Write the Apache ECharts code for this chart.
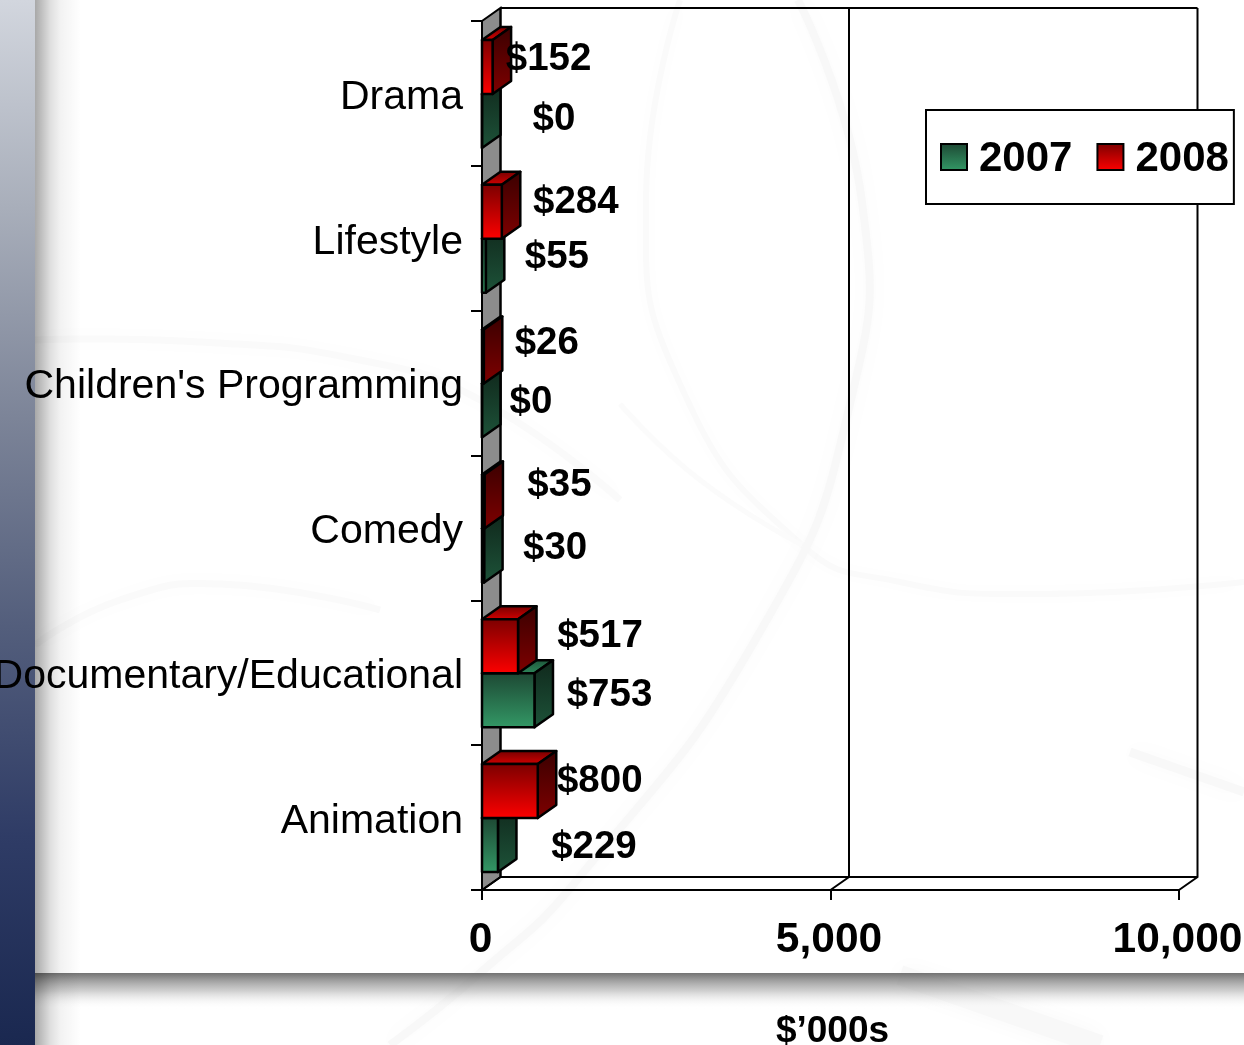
<!DOCTYPE html>
<html>
<head>
<meta charset="utf-8">
<title>Chart</title>
<script src="https://cdn.jsdelivr.net/npm/echarts@6/dist/echarts.min.js"></script>
<style>
html, body { margin: 0; padding: 0; background: #fff; }
#chart { width: 1244px; height: 1045px; }
</style>
</head>
<body>
<div id="chart"></div>
<script>
// chart data
var categories = ["Drama", "Lifestyle", "Children's Programming", "Comedy", "Documentary/Educational", "Animation"];
var values2007 = [0, 55, 0, 30, 753, 229];
var values2008 = [152, 284, 26, 35, 517, 800];
var xTicks = [0, 5000, 10000];

// hand placed data labels, offset from the end of each bar
var labelOffset2007 = [[72, -2], [71, -8], [49, -8], [71, -7], [75, -5], [96, 2]];
var labelOffset2008 = [[56, -8], [74, -9], [63, -13], [75, -16], [82, -10], [62, -10]];

var FONT = '"Liberation Sans", Arial, sans-serif';
var DEPTH_X = 18.5, DEPTH_Y = -13;
var BAR_H = 54;

function vgrad(top, bottom) {
    return new echarts.graphic.LinearGradient(0, 0, 0, 1, [
        { offset: 0, color: top },
        { offset: 1, color: bottom }
    ]);
}

var skin2007 = {
    front: ['#1d4733', '#339966'],
    side: ['#10281c', '#1d5339'],
    top: ['#1d5339', '#2f8a5c']
};
var skin2008 = {
    front: ['#7a0000', '#ff0000'],
    side: ['#3a0000', '#7f0000'],
    top: ['#700000', '#d80000']
};

// one box of the 3d bar, lower = true puts it under the band centre
function barRenderer(values, offsets, skin, lower) {
    return function (params, api) {
        var i = params.dataIndex;
        var base = api.coord([0, i]);
        var end = api.coord([api.value(0), i]);
        var y0 = (lower ? base[1] : base[1] - BAR_H) + 0.5;
        var y1 = y0 + BAR_H;
        var x0 = base[0], x1 = end[0];
        var line = { stroke: '#000', lineWidth: 2.5, lineJoin: 'round' };
        return {
            type: 'group',
            children: [{
                type: 'polygon',
                shape: { points: [[x0, y0], [x1, y0], [x1 + DEPTH_X, y0 + DEPTH_Y], [x0 + DEPTH_X, y0 + DEPTH_Y]] },
                style: Object.assign({ fill: vgrad(skin.top[0], skin.top[1]) }, line)
            }, {
                type: 'polygon',
                shape: { points: [[x1, y0], [x1 + DEPTH_X, y0 + DEPTH_Y], [x1 + DEPTH_X, y1 + DEPTH_Y], [x1, y1]] },
                style: Object.assign({ fill: vgrad(skin.side[0], skin.side[1]) }, line)
            }, {
                type: 'rect',
                shape: { x: x0, y: y0, width: x1 - x0, height: BAR_H },
                style: Object.assign({ fill: vgrad(skin.front[0], skin.front[1]) }, line)
            }, {
                type: 'text',
                z2: 50,
                style: {
                    text: '$' + api.value(0),
                    x: x1 + offsets[i][0],
                    y: (y0 + y1) / 2 + offsets[i][1],
                    align: 'center',
                    verticalAlign: 'middle',
                    font: 'bold 38.5px ' + FONT,
                    fill: '#000'
                }
            }]
        };
    };
}

// side wall, floor and back grid lines
function frameRenderer(params, api) {
    var box = params.coordSys;
    var top = box.y, bottom = box.y + box.height, left = box.x;
    var line = { stroke: '#000', lineWidth: 2, fill: null };
    var kids = [{
        type: 'polygon',
        shape: { points: [[left, top], [left + DEPTH_X, top + DEPTH_Y], [left + DEPTH_X, bottom + DEPTH_Y], [left, bottom]] },
        style: { fill: '#8c8c8c', stroke: '#000', lineWidth: 2 }
    }, {
        type: 'polyline',
        shape: { points: [[left + DEPTH_X, top + DEPTH_Y], [left + box.width + DEPTH_X, top + DEPTH_Y]] },
        style: line
    }, {
        type: 'polyline',
        shape: { points: [[left + DEPTH_X, bottom + DEPTH_Y], [left + box.width + DEPTH_X, bottom + DEPTH_Y]] },
        style: line
    }];
    xTicks.forEach(function (t) {
        var x = api.coord([t, 0])[0];
        kids.push({
            type: 'polyline',
            shape: { points: [[x, bottom], [x + DEPTH_X, bottom + DEPTH_Y], [x + DEPTH_X, top + DEPTH_Y]] },
            style: line
        });
    });
    return { type: 'group', children: kids };
}

function swirl(points, width, color) {
    return {
        type: 'polyline',
        z: -8,
        silent: true,
        shape: { points: points, smooth: 0.5 },
        style: { stroke: color, lineWidth: width, fill: null, shadowBlur: 22, shadowColor: color }
    };
}

var backdrop = [
    swirl([[680, 0], [646, 202], [680, 384], [802, 545], [900, 582], [1030, 594], [1244, 582]], 6, '#fafafa'),
    swirl([[798, 0], [862, 202], [850, 404], [761, 630], [577, 880], [480, 973], [390, 1045]], 8, '#f8f8f8'),
    swirl([[620, 404], [700, 480], [802, 545]], 5, '#fbfbfb'),
    swirl([[35, 340], [200, 342], [360, 360], [480, 400], [620, 500]], 7, '#fafafa'),
    swirl([[35, 645], [120, 600], [220, 584], [380, 610]], 7, '#fafafa'),
    swirl([[1130, 752], [1244, 792]], 9, '#f8f8f8'),
    swirl([[900, 975], [1000, 1010], [1100, 1045]], 20, '#f8f8f8'),
    {
        type: 'rect', z: -6, silent: true,
        shape: { x: 35, y: 973, width: 1209, height: 36 },
        style: {
            fill: new echarts.graphic.LinearGradient(0, 0, 0, 1, [
                { offset: 0, color: 'rgba(90,90,90,0.85)' },
                { offset: 0.5, color: 'rgba(150,150,150,0.45)' },
                { offset: 1, color: 'rgba(255,255,255,0)' }
            ])
        }
    },
    {
        type: 'rect', z: -5, silent: true,
        shape: { x: 35, y: 0, width: 46, height: 1045 },
        style: {
            fill: new echarts.graphic.LinearGradient(0, 0, 1, 0, [
                { offset: 0, color: 'rgba(0,0,0,0.34)' },
                { offset: 0.33, color: 'rgba(0,0,0,0.13)' },
                { offset: 0.55, color: 'rgba(0,0,0,0.05)' },
                { offset: 1, color: 'rgba(0,0,0,0)' }
            ])
        }
    },
    {
        type: 'rect', z: -4, silent: true,
        shape: { x: 0, y: 0, width: 35, height: 1045 },
        style: {
            fill: new echarts.graphic.LinearGradient(0, 0, 0, 1, [
                { offset: 0, color: '#d2d6de' },
                { offset: 0.2, color: '#a8aeba' },
                { offset: 0.4, color: '#7c8498' },
                { offset: 0.6, color: '#535e7c' },
                { offset: 0.8, color: '#2f3c66' },
                { offset: 1, color: '#1a2850' }
            ])
        }
    }
];

function barSeries(name, values, offsets, skin, lower) {
    return {
        name: name,
        type: 'custom',
        coordinateSystem: 'cartesian2d',
        clip: false,
        silent: true,
        z: 5,
        encode: { x: 0, y: 1 },
        itemStyle: { color: vgrad(skin.front[0], skin.front[1]) },
        renderItem: barRenderer(values, offsets, skin, lower),
        data: values.map(function (v, i) { return [v, i]; })
    };
}

var chart = echarts.init(document.getElementById('chart'), null, { renderer: 'canvas' });
chart.setOption({
    animation: false,
    backgroundColor: '#fff',
    textStyle: { fontFamily: FONT },
    graphic: { elements: backdrop },
    grid: { left: 482, top: 21, width: 697, height: 869, containLabel: false, outerBoundsMode: 'none' },
    legend: {
        left: 926,
        top: 110,
        padding: [28, 5, 24, 14],
        backgroundColor: '#fff',
        borderColor: '#000',
        borderWidth: 2,
        borderRadius: 0,
        itemWidth: 26,
        itemHeight: 26,
        itemGap: 24,
        selectedMode: false,
        formatter: '{a|{name}}',
        textStyle: {
            fontFamily: FONT, fontWeight: 'bold', fontSize: 42, color: '#000',
            rich: { a: { fontFamily: FONT, fontWeight: 'bold', fontSize: 42, color: '#000', padding: [4, 0, 0, 7] } }
        },
        data: [
            { name: '2007', icon: 'rect', itemStyle: { color: vgrad(skin2007.front[0], skin2007.front[1]), borderColor: '#000', borderWidth: 2 } },
            { name: '2008', icon: 'rect', itemStyle: { color: vgrad(skin2008.front[0], skin2008.front[1]), borderColor: '#000', borderWidth: 2 } }
        ],
        z: 20
    },
    xAxis: {
        type: 'value',
        min: 0,
        max: 10000,
        interval: 5000,
        name: '$\u2019000s',
        nameLocation: 'middle',
        nameGap: 123,
        nameTextStyle: { fontFamily: FONT, fontWeight: 'bold', fontSize: 37, color: '#000', padding: [0, 0, 0, 4] },
        axisLine: { show: true, lineStyle: { color: '#000', width: 2 } },
        axisTick: { show: true, length: 10, lineStyle: { color: '#000', width: 2 } },
        axisLabel: { margin: 29, padding: [0, 3, 0, 0], fontFamily: FONT, fontWeight: 'bold', fontSize: 42.5, color: '#000', hideOverlap: false, showMinLabel: true, showMaxLabel: true },
        splitLine: { show: false }
    },
    yAxis: {
        type: 'category',
        inverse: true,
        data: categories,
        axisLine: { show: true, lineStyle: { color: '#000', width: 2 } },
        axisTick: { show: true, length: 11, lineStyle: { color: '#000', width: 2 } },
        axisLabel: {
            margin: 19, fontFamily: FONT, fontSize: 41, color: '#000', interval: 0,
            formatter: '{a|{value}}',
            rich: { a: { fontFamily: FONT, fontSize: 41, color: '#000', padding: [8, 0, 0, 0] } }
        },
        splitLine: { show: false }
    },
    series: [{
        type: 'custom',
        coordinateSystem: 'cartesian2d',
        clip: false,
        silent: true,
        z: 1,
        renderItem: frameRenderer,
        data: [[0, 0]]
    },
    barSeries('2007', values2007, labelOffset2007, skin2007, true),
    barSeries('2008', values2008, labelOffset2008, skin2008, false)]
});
</script>
</body>
</html>
